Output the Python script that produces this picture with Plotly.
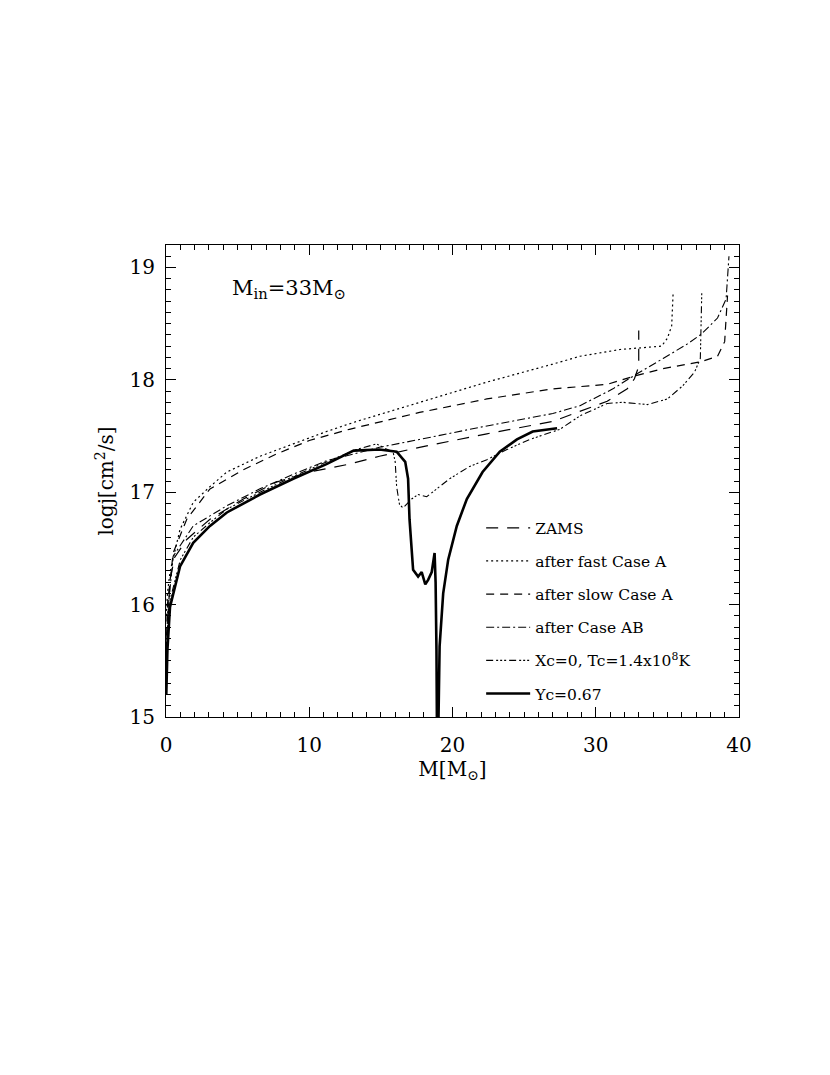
import plotly.graph_objects as go

# mass coordinate M [Msun] and log j [cm^2/s]
zams_m = [0.02, 0.1, 0.28, 0.6, 1.45, 3.07, 5.4, 7.7, 10.0, 12.8, 14.9, 17.7, 22.4, 27.0, 30.8, 32.2, 32.7, 33.0, 33.0]
zams_j = [15.3, 15.8, 16.22, 16.42, 16.58, 16.76, 16.94, 17.09, 17.18, 17.25, 17.32, 17.40, 17.52, 17.63, 17.81, 17.92, 18.01, 18.12, 18.44]

fastA_m = [0.02, 0.1, 0.28, 0.98, 1.9, 3.07, 4.25, 6.56, 8.88, 11.2, 13.3, 17.7, 22.4, 27.0, 28.9, 31.7, 33.6, 34.6, 35.0, 35.3, 35.4]
fastA_j = [15.9, 16.1, 16.29, 16.67, 16.91, 17.05, 17.18, 17.32, 17.43, 17.54, 17.63, 17.80, 17.98, 18.14, 18.21, 18.27, 18.29, 18.30, 18.37, 18.48, 18.77]

slowA_m = [0.02, 0.1, 0.5, 1.45, 3.07, 5.4, 7.7, 10.0, 12.8, 17.7, 22.4, 27.0, 30.8, 32.6, 34.7, 37.3, 38.5, 39.0, 39.1, 39.2]
slowA_j = [15.6, 16.0, 16.46, 16.76, 17.03, 17.2, 17.34, 17.46, 17.56, 17.71, 17.83, 17.92, 17.96, 18.03, 18.10, 18.16, 18.21, 18.34, 18.55, 18.75]

caseAB_m = [0.02, 0.1, 0.5, 1.9, 4.25, 6.56, 8.88, 11.2, 13.1, 14.9, 17.7, 22.4, 27.0, 28.9, 31.2, 32.7, 34.7, 36.4, 37.4, 38.5, 39.1, 39.2, 39.3]
caseAB_j = [15.4, 15.9, 16.43, 16.70, 16.88, 17.03, 17.16, 17.28, 17.34, 17.40, 17.47, 17.59, 17.70, 17.77, 17.92, 18.04, 18.19, 18.32, 18.41, 18.55, 18.72, 18.9, 19.1]

xc0_m = [0.02, 0.1, 0.3, 1.0, 1.9, 3.07, 4.25, 6.56, 8.88, 11.2, 13.3, 14.7, 15.3, 15.85, 16.0, 16.1, 16.3, 16.55, 17.15, 17.6, 18.2, 18.9, 19.8, 21.2, 22.4, 23.8, 25.4, 27.5, 28.9, 30.8, 31.9, 33.6, 35.0, 36.1, 36.9, 37.3, 37.4]
xc0_j = [15.3, 15.8, 16.05, 16.4, 16.6, 16.73, 16.85, 17.0, 17.14, 17.27, 17.38, 17.43, 17.39, 17.36, 17.27, 17.05, 16.89, 16.86, 16.94, 16.98, 16.96, 17.03, 17.12, 17.23, 17.29, 17.38, 17.47, 17.56, 17.68, 17.79, 17.80, 17.78, 17.83, 17.95, 18.07, 18.19, 18.77]

yc_m = [0.02, 0.1, 0.28, 0.98, 1.9, 3.07, 4.25, 6.56, 8.88, 11.2, 13.1, 14.9, 16.1, 16.7, 16.9, 17.0, 17.25, 17.6, 17.85, 18.1, 18.3, 18.55, 18.75, 18.82, 18.88, 18.92, 19.0, 19.1, 19.35, 19.7, 20.3, 21.0, 22.1, 23.3, 24.5, 25.6, 27.3]
yc_j = [15.2, 15.6, 15.98, 16.34, 16.55, 16.70, 16.82, 16.98, 17.12, 17.25, 17.37, 17.38, 17.36, 17.27, 17.12, 16.76, 16.31, 16.25, 16.29, 16.18, 16.22, 16.29, 16.46, 16.2, 15.6, 14.8, 14.8, 15.63, 16.1, 16.4, 16.70, 16.94, 17.18, 17.36, 17.47, 17.54, 17.57]

names = ["ZAMS", "after fast Case A", "after slow Case A", "after Case AB",
         "Xc=0, Tc=1.4x10<sup>8</sup>K", "Yc=0.67"]

fig = go.Figure()

curves = [
    (zams_m, zams_j, "12px,9px", 1.2),
    (fastA_m, fastA_j, "2px,3px", 1.2),
    (slowA_m, slowA_j, "8px,6px", 1.2),
    (caseAB_m, caseAB_j, "8px,3px,2px,3px", 1.1),
    (xc0_m, xc0_j, "7px,3px,2px,2px,2px,2px,2px,3px", 1.1),
    (yc_m, yc_j, "solid", 2.6),
]
for k, (m, j, dash, w) in enumerate(curves):
    fig.add_trace(go.Scatter(
        x=m, y=j, mode="lines", name=names[k],
        legendgroup=str(k),
        line=dict(color="black", dash=dash, width=w),
    ))

serif = "DejaVu Serif"

fig.add_annotation(
    x=0.215, y=0.907, xref="paper", yref="paper",
    xanchor="center", yanchor="middle",
    text="M<sub>in</sub>=33M<sub>⊙</sub>", showarrow=False,
    font=dict(family=serif, size=21, color="black"),
)

axis_common = dict(
    showline=True, linecolor="black", linewidth=1.2, mirror="ticks",
    ticks="inside", ticklen=10, tickwidth=1, tickcolor="black",
    showgrid=False, zeroline=False,
    tickfont=dict(family=serif, size=20, color="black"),
)

fig.update_layout(
    width=830, height=1075,
    margin=dict(l=158, r=99, t=237, b=366),
    plot_bgcolor="white", paper_bgcolor="white",
    xaxis=dict(range=[0, 40], tickmode="linear", tick0=0, dtick=10,
               ticklabelstandoff=10,
               minor=dict(dtick=1, ticks="inside", ticklen=5, tickcolor="black"),
               title=dict(text="M[M<sub>⊙</sub>]", standoff=4,
                          font=dict(family=serif, size=20, color="black")),
               **axis_common),
    yaxis=dict(range=[15, 19.2], tickmode="linear", tick0=15, dtick=1,
               ticklabelstandoff=6,
               minor=dict(dtick=0.1, ticks="inside", ticklen=5, tickcolor="black"),
               title=dict(text="logj[cm<sup>2</sup>/s]", standoff=10,
                          font=dict(family=serif, size=20, color="black")),
               **axis_common),
    legend=dict(x=0.55, y=0.436, xanchor="left", yanchor="top",
                bgcolor="rgba(0,0,0,0)", tracegroupgap=10, itemwidth=44,
                font=dict(family=serif, size=15.5, color="black")),
)

fig.write_html("out.html")
